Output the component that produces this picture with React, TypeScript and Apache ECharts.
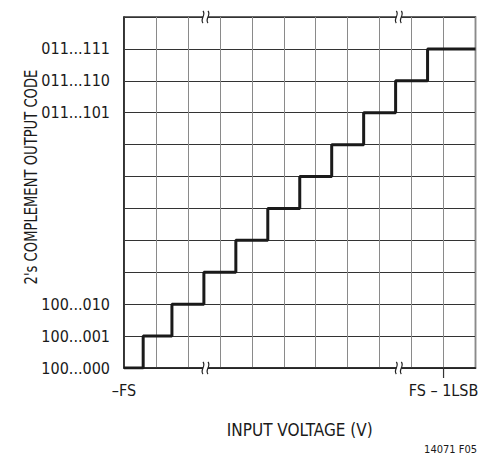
import React, { useEffect, useRef } from "react";
import * as echarts from "echarts";

// Transition edges (input, in LSB units) and output codes of the staircase
const stepEdges = [0, 0.6, 1.5, 2.5, 3.5, 4.5, 5.5, 6.5, 7.5, 8.5, 9.5, 11];
const outputCodes = [0, 1, 2, 3, 4, 5, 6, 7, 8, 9, 10];

const yTickValues = [0, 1, 2, 8, 9, 10];
const yTickLabels = ["100...000", "100...001", "100...010", "011...101", "011...110", "011...111"];
const xTickValues = [0, 10];
const xTickLabels = ["\u2013FS", "FS \u2013 1LSB"];
const xMarkedTicks = [10];
const breakXs = [2.55, 8.6];

const FONT = "'DejaVu Sans Condensed', 'Liberation Sans Narrow', sans-serif";

export default function App() {
  const ref = useRef<HTMLDivElement>(null);
  useEffect(() => {
    if (!ref.current) return;
    const chart = echarts.init(ref.current, undefined, { renderer: "svg" });
    const pts: number[][] = [];
    outputCodes.forEach((c, i) => {
      pts.push([stepEdges[i], c]);
      pts.push([stepEdges[i + 1], c]);
    });
    chart.setOption({
      animation: false,
      backgroundColor: "#fff",
      grid: {
        left: 124, top: 17, right: 5.5, bottom: 93,
        show: true, borderColor: "#333", borderWidth: 1.5,
        outerBoundsMode: "none",
      },
      xAxis: [
        {
          type: "value",
          min: 0,
          max: 11,
          interval: 1,
          axisLine: { show: true, lineStyle: { color: "#222", width: 1.5 } },
          axisTick: { show: false },
          axisLabel: { show: false },
          splitLine: { show: true, lineStyle: { color: "#8a8a8a", width: 1 } },
        },
        {
          type: "value",
          position: "bottom",
          min: 0,
          max: 11,
          name: "INPUT VOLTAGE (V)",
          nameLocation: "middle",
          nameGap: 53,
          nameTextStyle: { fontFamily: FONT, fontSize: 17, color: "#1a1a1a" },
          axisLine: { show: false },
          axisTick: { show: false },
          axisLabel: {
            customValues: xTickValues,
            margin: 14,
            fontFamily: FONT,
            fontSize: 16,
            color: "#1a1a1a",
            formatter: (v: number) => {
              const i = xTickValues.indexOf(v);
              return i >= 0 ? xTickLabels[i] : "";
            },
          },
          splitLine: { show: false },
        },
      ],
      yAxis: {
        type: "value",
        min: 0,
        max: 11,
        interval: 1,
        axisLine: { show: true, lineStyle: { color: "#222", width: 1.5 } },
        axisTick: { show: false },
        axisLabel: {
          margin: 14,
          fontFamily: FONT,
          fontSize: 16,
          color: "#1a1a1a",
          formatter: (v: number) => {
            const i = yTickValues.indexOf(v);
            return i >= 0 ? yTickLabels[i] : "";
          },
        },
        splitLine: { show: true, lineStyle: { color: "#333", width: 1 } },
      },
      series: [
        {
          type: "line",
          xAxisIndex: 0,
          data: pts,
          symbol: "none",
          lineStyle: { color: "#1a1a1a", width: 3 },
          z: 5,
        },
      ],
    });

    const graphics: any[] = [];
    xMarkedTicks.forEach((tv) => {
      const p = chart.convertToPixel({ gridIndex: 0 }, [tv, 0]) as number[];
      graphics.push({
        type: "rect",
        shape: { x: p[0] - 0.6, y: p[1], width: 1.2, height: 10 },
        style: { fill: "#333" },
        z: 10,
      });
    });
    breakXs.forEach((bx) => {
      [11, 0].forEach((yv) => {
        const p = chart.convertToPixel({ gridIndex: 0 }, [bx, yv]) as number[];
        const cx = p[0];
        const cy = p[1];
        graphics.push({
          type: "rect",
          shape: { x: cx - 2.5, y: cy - 2.5, width: 5, height: 5 },
          style: { fill: "#fff" },
          z: 10,
        });
        [-2.5, 2.5].forEach((o) => {
          graphics.push({
            type: "bezierCurve",
            shape: {
              x1: cx + o, y1: cy - 6,
              cpx1: cx + o + 3.5, cpy1: cy - 2,
              cpx2: cx + o - 3.5, cpy2: cy + 2,
              x2: cx + o, y2: cy + 6,
            },
            style: { stroke: "#222", lineWidth: 1.2, fill: null },
            z: 11,
          });
        });
      });
    });
    graphics.push({
      type: "text",
      x: 31,
      y: 177,
      rotation: Math.PI / 2,
      scaleX: 0.86,
      style: {
        text: "2's COMPLEMENT OUTPUT CODE",
        font: `17px ${FONT}`,
        fill: "#1a1a1a",
        align: "center",
        verticalAlign: "middle",
      },
    });
    graphics.push({
      type: "text",
      x: 477,
      y: 449,
      style: {
        text: "14071 F05",
        font: `11px ${FONT}`,
        fill: "#1a1a1a",
        align: "right",
        verticalAlign: "middle",
      },
    });
    chart.setOption({ graphic: graphics });
    return () => chart.dispose();
  }, []);
  return <div ref={ref} style={{ width: 481, height: 461, position: "absolute", left: 0, top: 0 }} />;
}
